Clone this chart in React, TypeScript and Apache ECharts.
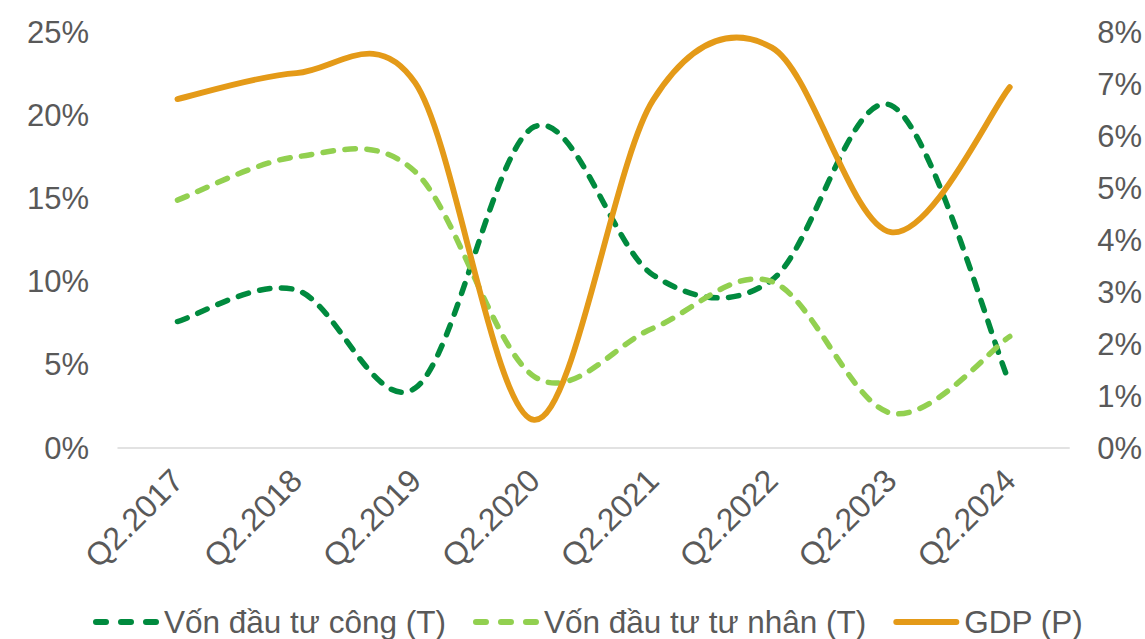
import React, { useEffect, useRef } from "react";
import * as echarts from "echarts";

const categories = ["Q2.2017", "Q2.2018", "Q2.2019", "Q2.2020", "Q2.2021", "Q2.2022", "Q2.2023", "Q2.2024"];
const publicInvest = [7.6, 9.5, 3.6, 19.3, 10.4, 10.1, 20.6, 3.9];
const privateInvest = [14.9, 17.5, 16.6, 4.3, 7.2, 10.0, 2.1, 6.7];
const gdp = [6.71, 7.21, 7.02, 0.54, 6.69, 7.7, 4.15, 6.94];
const leftTicks = { min: 0, max: 25, interval: 5 };
const rightTicks = { min: 0, max: 8, interval: 1 };
const seriesNames = ["Vốn đầu tư công (T)", "Vốn đầu tư tư nhân (T)", "GDP (P)"];

const FONT = "'Liberation Sans', Arial, sans-serif";
const TXT = "#595959";
const DARK = "#008A3E";
const LIGHT = "#92D050";
const ORANGE = "#E49A18";

function makeRender(values: number[], color: string, dash: number[] | null, width: number) {
  return (params: any, api: any) => {
    if (params.dataIndex !== 0) return null;
    const pts = values.map((v, i) => api.coord([i, v]));
    let d = `M${pts[0][0]},${pts[0][1]}`;
    for (let i = 0; i < pts.length - 1; i++) {
      const p0 = pts[Math.max(0, i - 1)];
      const p1 = pts[i];
      const p2 = pts[i + 1];
      const p3 = pts[Math.min(pts.length - 1, i + 2)];
      const c1x = p1[0] + (p2[0] - p0[0]) / 6;
      const c1y = p1[1] + (p2[1] - p0[1]) / 6;
      const c2x = p2[0] - (p3[0] - p1[0]) / 6;
      const c2y = p2[1] - (p3[1] - p1[1]) / 6;
      d += ` C${c1x},${c1y} ${c2x},${c2y} ${p2[0]},${p2[1]}`;
    }
    return {
      type: "path",
      shape: { pathData: d },
      style: {
        fill: "none",
        stroke: color,
        lineWidth: width,
        lineDash: dash || undefined,
        lineCap: "round",
        lineJoin: "round",
      },
    };
  };
}

const dashIcon = "path://M3,0h10a3,3 0 0 1 0,6h-10a3,3 0 0 1 0,-6z M28,0h10a3,3 0 0 1 0,6h-10a3,3 0 0 1 0,-6z M53,0h10a3,3 0 0 1 0,6h-10a3,3 0 0 1 0,-6z";
const solidIcon = "path://M3,0h60a3,3 0 0 1 0,6h-60a3,3 0 0 1 0,-6z";

export default function App() {
  const ref = useRef<HTMLDivElement>(null);
  useEffect(() => {
    if (!ref.current) return;
    const chart = echarts.init(ref.current, null, { renderer: "svg" });
    const mk = (name: string, values: number[], color: string, dash: number[] | null, width: number, yIdx: number) => ({
      name,
      type: "custom",
      yAxisIndex: yIdx,
      silent: true,
      itemStyle: { color },
      data: values.map((v, i) => [i, v]),
      encode: { x: 0, y: 1 },
      renderItem: makeRender(values, color, dash, width),
    });
    chart.setOption({
      animation: false,
      backgroundColor: "#ffffff",
      textStyle: { fontFamily: FONT },
      grid: { left: 118, right: 74, top: 32, bottom: 191, containLabel: false },
      legend: {
        left: 88,
        top: 601,
        itemWidth: 66,
        itemHeight: 6,
        itemGap: 27,
        textStyle: { fontSize: 31.5, color: TXT, fontFamily: FONT },
        data: [
          { name: seriesNames[0], icon: dashIcon, itemStyle: { color: DARK } },
          { name: seriesNames[1], icon: dashIcon, itemStyle: { color: LIGHT } },
          { name: seriesNames[2], icon: solidIcon, itemStyle: { color: ORANGE } },
        ],
      },
      xAxis: {
        type: "category",
        data: categories,
        boundaryGap: true,
        axisLine: { show: true, lineStyle: { color: "#D9D9D9", width: 1.5 } },
        axisTick: { show: false },
        axisLabel: {
          rotate: 45,
          fontSize: 32,
          color: TXT,
          fontFamily: FONT,
          margin: 27,
          interval: 0,
          padding: [22, 0, 0, 0],
        },
      },
      yAxis: [
        {
          type: "value",
          ...leftTicks,
          axisLine: { show: false },
          axisTick: { show: false },
          splitLine: { show: false },
          axisLabel: { formatter: "{value}%", fontSize: 31, color: TXT, fontFamily: FONT, margin: 29 },
        },
        {
          type: "value",
          position: "right",
          ...rightTicks,
          axisLine: { show: false },
          axisTick: { show: false },
          splitLine: { show: false },
          axisLabel: { formatter: "{value}%", fontSize: 31, color: TXT, fontFamily: FONT, margin: 28 },
        },
      ],
      series: [
        mk(seriesNames[0], publicInvest, DARK, [10.5, 11.5], 5.5, 0),
        mk(seriesNames[1], privateInvest, LIGHT, [10.5, 11.5], 5.5, 0),
        mk(seriesNames[2], gdp, ORANGE, null, 5.8, 1),
      ],
    });
    return () => chart.dispose();
  }, []);
  return (
    <div
      ref={ref}
      style={{ position: "fixed", left: 0, top: 0, width: 1145, height: 639, background: "#fff" }}
    />
  );
}
